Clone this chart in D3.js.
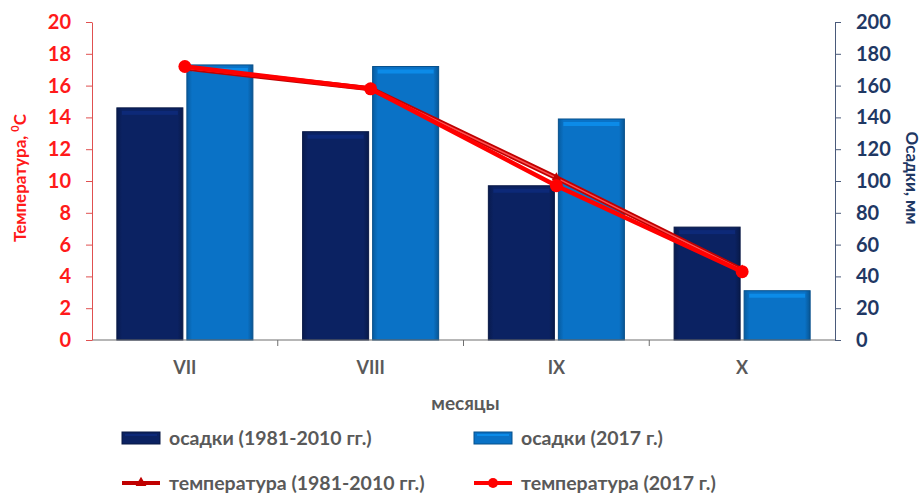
<!DOCTYPE html>
<html lang="ru">
<head>
  <meta charset="UTF-8">
  <title>Температура и осадки</title>
  <script src="https://d3js.org/d3.v7.min.js"></script>
  <style>
    body { margin: 0; background: #fff; }
    svg { display: block; font-family: Lato, "Open Sans", sans-serif; font-weight: bold; }
  </style>
</head>
<body>
  <svg width="922" height="494"></svg>

  <script>
    // data
    const months = ["VII", "VIII", "IX", "X"];
    const precipNorm = [146, 131, 97, 71];     // осадки (1981-2010 гг.), мм
    const precip2017 = [173, 172, 139, 31];    // осадки (2017 г.), мм
    const tempNorm = [17.1, 15.8, 10.2, 4.4];  // температура (1981-2010 гг.)
    const temp2017 = [17.2, 15.8, 9.7, 4.3];   // температура (2017 г.)
    const tempTicks = d3.range(0, 21, 2);
    const precipTicks = d3.range(0, 201, 20);

    const svg = d3.select("svg");
    const plotL = 92, plotR = 835, plotT = 22, plotB = 340;

    const x = d3.scaleBand().domain(months).range([plotL, plotR]).paddingInner(0).paddingOuter(0);
    const xs = d3.scaleBand().domain([0, 1]).range([0, x.bandwidth()]).paddingInner(0.057).paddingOuter(0.355);
    const yT = d3.scaleLinear().domain([0, 20]).range([plotB, plotT]);
    const yP = d3.scaleLinear().domain([0, 200]).range([plotB, plotT]);

    const defs = svg.append("defs");
    function barGrad(id, c) {
      const g = defs.append("linearGradient").attr("id", id).attr("x1", 0).attr("x2", 1).attr("y1", 0).attr("y2", 0);
      g.append("stop").attr("offset", "0%").attr("stop-color", d3.color(c).darker(0.6));
      g.append("stop").attr("offset", "8%").attr("stop-color", c);
      g.append("stop").attr("offset", "92%").attr("stop-color", c);
      g.append("stop").attr("offset", "100%").attr("stop-color", d3.color(c).darker(0.8));
    }
    const darkC = "#0b2262", lightC = "#0a72c6";
    barGrad("gDark", darkC);
    barGrad("gLight", lightC);

    // bars
    const series = [
      { vals: precipNorm, fill: "url(#gDark)", base: darkC },
      { vals: precip2017, fill: "url(#gLight)", base: lightC }
    ];
    series.forEach((s, si) => {
      const g = svg.append("g");
      months.forEach((m, i) => {
        const bx = x(m) + xs(si), bw = xs.bandwidth(), by = yP(s.vals[i]);
        g.append("rect").attr("x", bx).attr("y", by).attr("width", bw).attr("height", plotB - by)
          .attr("fill", s.fill).attr("stroke", d3.color(s.base).darker(1)).attr("stroke-width", 1);
        // bevel highlight
        g.append("rect").attr("x", bx + 5).attr("y", by + 3).attr("width", bw - 10).attr("height", 4)
          .attr("fill", d3.color(s.base).brighter(0.9)).attr("opacity", 0.6);
      });
    });

    // axes
    const axisGray = "#6f6f6f";
    const xAxis = svg.append("g").attr("transform", `translate(0,${plotB})`)
      .call(d3.axisBottom(x).tickSize(0).tickPadding(21));
    xAxis.select(".domain").attr("stroke", axisGray).attr("d", `M${plotL},0H${plotR}`);
    xAxis.selectAll("text").attr("fill", "#595959").attr("font-size", 18).attr("font-family", "Lato, sans-serif").attr("font-weight", "bold");
    [1, 2, 3].forEach(i => {
      xAxis.append("line").attr("x1", plotL + i * x.step()).attr("x2", plotL + i * x.step())
        .attr("y1", 0).attr("y2", 6).attr("stroke", axisGray);
    });

    const redC = "#ff1a1a", navyC = "#1f3864";
    const yAxisL = svg.append("g").attr("transform", `translate(${plotL},0)`)
      .call(d3.axisLeft(yT).tickValues(tempTicks).tickSize(6).tickPadding(15).tickSizeOuter(0));
    yAxisL.select(".domain").attr("stroke", "#e05050");
    yAxisL.selectAll(".tick line").attr("stroke", "#e05050");
    yAxisL.selectAll("text").attr("fill", redC).attr("font-size", 20).attr("font-family", "Lato, sans-serif").attr("font-weight", "bold");

    const yAxisR = svg.append("g").attr("transform", `translate(${plotR},0)`)
      .call(d3.axisRight(yP).tickValues(precipTicks).tickSize(6).tickPadding(15).tickSizeOuter(0));
    yAxisR.select(".domain").attr("stroke", "#4a5a7a");
    yAxisR.selectAll(".tick line").attr("stroke", "#4a5a7a");
    yAxisR.selectAll("text").attr("fill", navyC).attr("font-size", 20).attr("font-family", "Lato, sans-serif").attr("font-weight", "bold");

    // temperature lines
    const lineT = d3.line().x((d, i) => x(months[i]) + x.bandwidth() / 2).y(d => yT(d));
    svg.append("path").datum(tempNorm).attr("d", lineT).attr("fill", "none")
      .attr("stroke", "#c00000").attr("stroke-width", 5);
    svg.append("path").datum(tempNorm).attr("d", lineT).attr("fill", "none")
      .attr("stroke", "#ff5050").attr("stroke-width", 1.5);
    svg.append("g").selectAll("path").data(tempNorm).join("path")
      .attr("d", d3.symbol(d3.symbolTriangle, 40))
      .attr("transform", (d, i) => `translate(${x(months[i]) + x.bandwidth() / 2},${yT(d)})`)
      .attr("fill", "#c00000");
    svg.append("path").datum(temp2017).attr("d", lineT).attr("fill", "none")
      .attr("stroke", "#ff0000").attr("stroke-width", 4.5);
    svg.append("g").selectAll("circle").data(temp2017).join("circle")
      .attr("cx", (d, i) => x(months[i]) + x.bandwidth() / 2).attr("cy", d => yT(d))
      .attr("r", 6.5).attr("fill", "#ff0000");

    // axis titles
    const tl = svg.append("text").attr("transform", "translate(26,178) rotate(-90)")
      .attr("text-anchor", "middle").attr("fill", redC).attr("font-size", 17);
    tl.append("tspan").text("Температура, ");
    tl.append("tspan").attr("dy", -7).attr("font-size", 11).text("0");
    tl.append("tspan").attr("dy", 7).text("C");
    svg.append("text").attr("transform", "translate(906,178) rotate(90)")
      .attr("text-anchor", "middle").attr("fill", navyC).attr("font-size", 17)
      .text("Осадки, мм");
    svg.append("text").attr("x", (plotL + plotR) / 2 + 2).attr("y", 410).attr("text-anchor", "middle")
      .attr("fill", "#595959").attr("font-size", 19).text("месяцы");

    // legend
    const legend = [
      { label: "осадки (1981-2010 гг.)", type: "bar", color: darkC, col: 0, row: 0 },
      { label: "осадки (2017 г.)", type: "bar", color: lightC, col: 1, row: 0 },
      { label: "температура (1981-2010 гг.)", type: "tri", color: "#c00000", col: 0, row: 1 },
      { label: "температура (2017 г.)", type: "dot", color: "#ff0000", col: 1, row: 1 }
    ];
    const lg = svg.append("g");
    legend.forEach(d => {
      const lx = d.col ? 474 : 122, ly = d.row ? 483 : 438;
      const g = lg.append("g").attr("transform", `translate(${lx},${ly})`);
      if (d.type === "bar") {
        g.append("rect").attr("x", 0).attr("y", -6).attr("width", 38).attr("height", 12)
          .attr("fill", d.color).attr("stroke", d3.color(d.color).darker(1));
        g.append("rect").attr("x", 3).attr("y", -4).attr("width", 32).attr("height", 2)
          .attr("fill", d3.color(d.color).brighter(0.9)).attr("opacity", 0.6);
      } else {
        g.append("line").attr("x1", 0).attr("x2", 38).attr("stroke", d.color).attr("stroke-width", 4);
        if (d.type === "tri") g.append("path").attr("transform", "translate(19,0)")
          .attr("d", d3.symbol(d3.symbolTriangle, 50)).attr("fill", d.color);
        else g.append("circle").attr("cx", 19).attr("r", 5).attr("fill", d.color);
      }
      g.append("text").attr("x", 47).attr("y", 7).attr("fill", "#595959").attr("font-size", 19.5).text(d.label);
    });
  </script>
</body>
</html>
